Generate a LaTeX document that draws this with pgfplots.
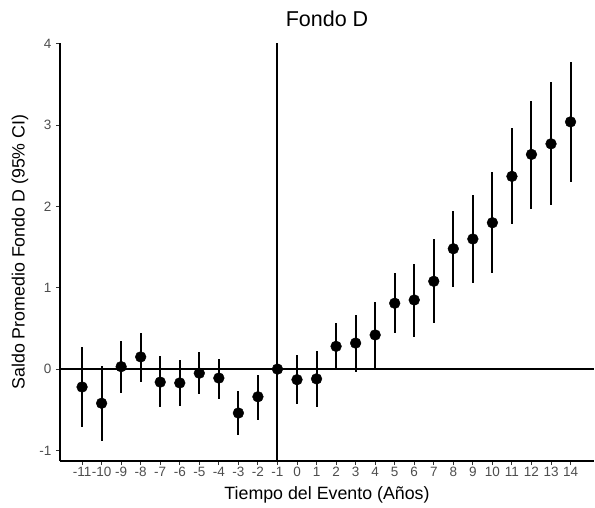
\documentclass[border=0pt]{standalone}
\usepackage{pgfplots}
\pgfplotsset{compat=1.18}
\usepackage{pgfplotstable}
\usepackage{fontspec}
\setmainfont{Liberation Sans}
\definecolor{ticktext}{HTML}{4D4D4D}
\definecolor{tickline}{HTML}{333333}
\pgfplotstableread{
x y lo hi
-11 -0.22 -0.71 0.27
-10 -0.42 -0.88 0.04
-9 0.03 -0.29 0.34
-8 0.15 -0.16 0.45
-7 -0.16 -0.47 0.16
-6 -0.17 -0.45 0.11
-5 -0.05 -0.31 0.21
-4 -0.11 -0.37 0.13
-3 -0.54 -0.81 -0.27
-2 -0.34 -0.62 -0.07
-1 0.00 0.00 0.00
0 -0.13 -0.43 0.17
1 -0.12 -0.46 0.22
2 0.28 0.00 0.57
3 0.32 -0.03 0.67
4 0.42 0.00 0.83
5 0.81 0.44 1.18
6 0.85 0.40 1.29
7 1.08 0.57 1.60
8 1.48 1.01 1.95
9 1.60 1.06 2.14
10 1.80 1.18 2.42
11 2.37 1.78 2.96
12 2.64 1.97 3.30
13 2.77 2.02 3.53
14 3.04 2.30 3.78
}\datatable
\begin{document}
\begin{tikzpicture}
\begin{axis}[
  at={(0,0)}, anchor=south west,
  scale only axis=true,
  width=534bp, height=418bp,
  xmin=-12.13, xmax=15.2,
  ymin=-1.13, ymax=4.01,
  axis x line=bottom, axis y line=left,
  axis line style={-, black, line width=1.2bp},
  xtick={-11,-10,...,14},
  ytick={-1,0,1,2,3,4},
  tick align=outside,
  major tick length=4bp,
  tick style={tickline, line width=1bp},
  /pgf/number format/assume math mode=true,
  tick label style={font=\fontsize{13.5bp}{15bp}\selectfont, text=ticktext},
  xticklabel style={yshift=1bp},
  yticklabel style={xshift=-1bp},
  xlabel={Tiempo del Evento (Años)},
  ylabel={Saldo Promedio Fondo D (95\% CI)},
  label style={font=\fontsize{17.8bp}{20bp}\selectfont, text=black},
  xlabel style={at={(axis description cs:0.5,-0.08)}, anchor=center},
  ylabel style={at={(axis description cs:-0.075,0.5)}, anchor=center},
  title={Fondo D},
  title style={font=\fontsize{21.5bp}{24bp}\selectfont, at={(axis description cs:0.5,1.043)}, anchor=center},
  clip=false,
]
\addplot[black, line width=1.6bp, forget plot] coordinates {(-12.13,0) (15.2,0)};
\addplot[black, line width=2bp, forget plot] coordinates {(-1,-1.13) (-1,4.01)};
\addplot[
  only marks, mark=*, mark size=5.4bp, black,
  mark options={fill=black, draw=black},
  error bars/.cd,
    y dir=both, y explicit,
    error mark=none,
    error bar style={line width=2bp, black},
] table[
  x=x, y=y,
  y error plus expr=\thisrow{hi}-\thisrow{y},
  y error minus expr=\thisrow{y}-\thisrow{lo},
] {\datatable};
\end{axis}
\path[use as bounding box] (-60bp,-47bp) rectangle (535bp,461bp);
\end{tikzpicture}
\end{document}
